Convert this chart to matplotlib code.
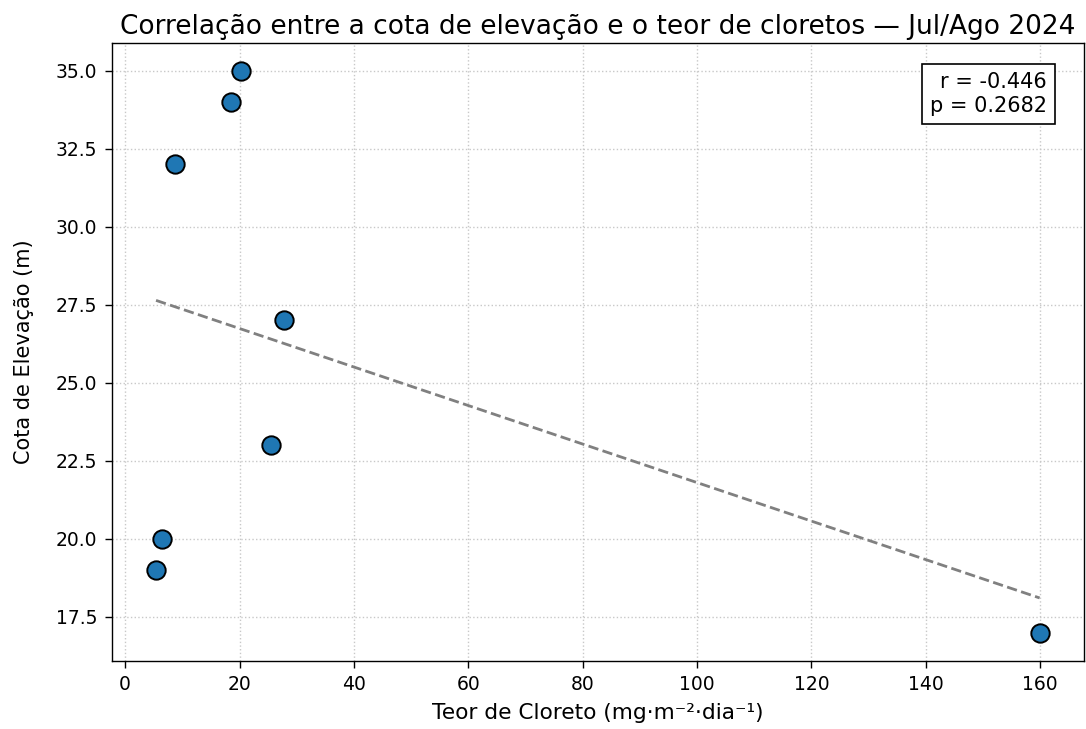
import numpy as np
import matplotlib
matplotlib.use("Agg")
import matplotlib.pyplot as plt

cloreto = [5.4, 6.5, 8.8, 18.5, 20.2, 25.5, 27.8, 159.9]
cota = [19.0, 20.0, 32.0, 34.0, 35.0, 23.0, 27.0, 17.0]
r_text = "r = -0.446\np = 0.2682"

x = np.array(cloreto)
y = np.array(cota)

fig, ax = plt.subplots(figsize=(10.86, 7.29), dpi=100)
fig.subplots_adjust(left=0.103, right=0.998, top=0.9414, bottom=0.0937)
ax.scatter(x, y, s=175, color="#1f77b4", edgecolor="black", linewidth=1.4, zorder=3)
m, b = np.polyfit(x, y, 1)
xs = np.array([x.min(), x.max()])
ax.plot(xs, m * xs + b, linestyle="--", color="gray", linewidth=2.0, zorder=2)
ax.grid(True, linestyle=":", linewidth=1.0, color="#c8c8c8")
ax.set_axisbelow(True)
for s in ax.spines.values():
    s.set_linewidth(1.0)
ax.tick_params(labelsize=13.5, width=1.0, length=5, pad=5.5)
ax.set_title("Correlação entre a cota de elevação e o teor de cloretos — Jul/Ago 2024", fontsize=19.0)
ax.set_xlabel("Teor de Cloreto (mg·m⁻²·dia⁻¹)", fontsize=15.6, labelpad=6)
ax.set_ylabel("Cota de Elevação (m)", fontsize=15, labelpad=16)
ax.text(0.962, 0.952, r_text, transform=ax.transAxes, ha="right", va="top", fontsize=15,
        bbox=dict(boxstyle="square,pad=0.4", facecolor="white", edgecolor="black", linewidth=1.2))
fig.savefig("out.png", dpi=100)
